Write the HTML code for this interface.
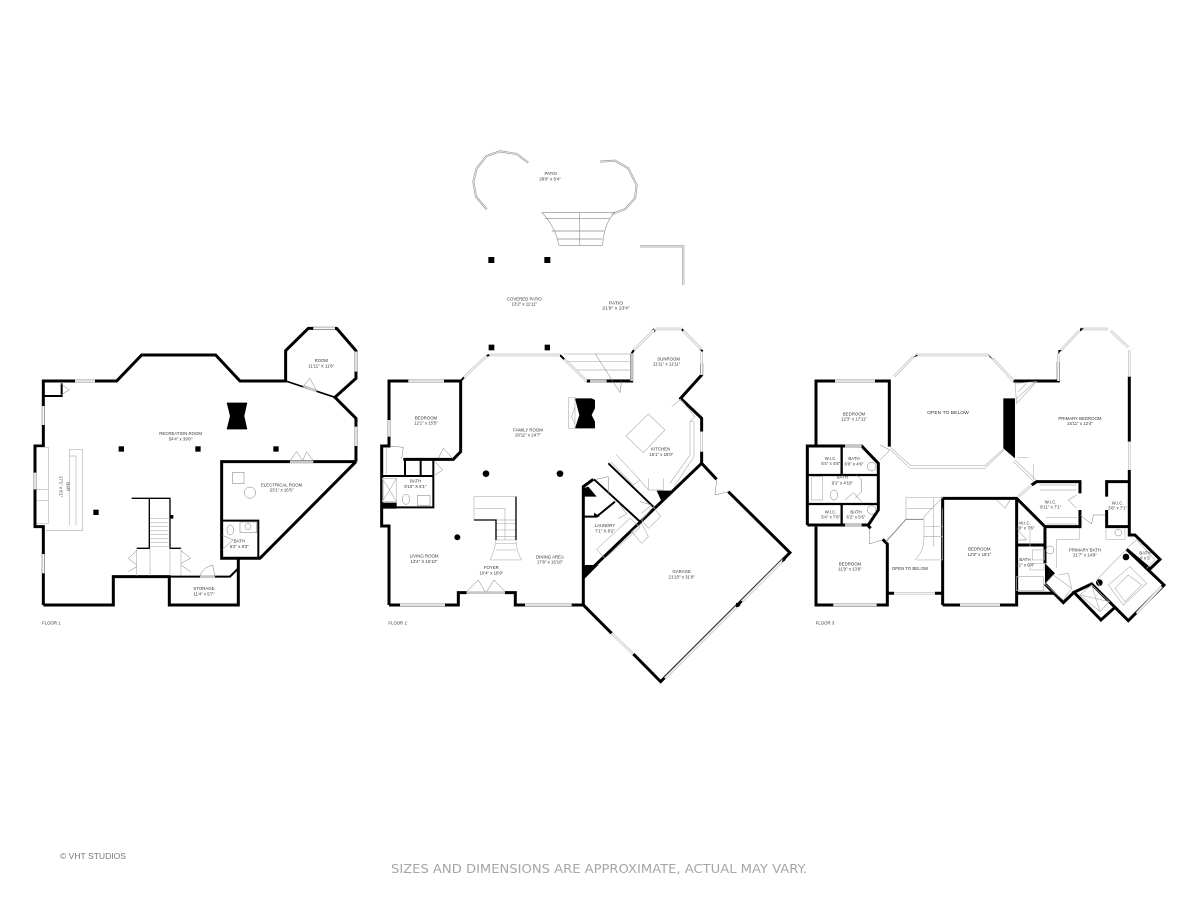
<!DOCTYPE html>
<html><head><meta charset="utf-8"><style>
html,body{margin:0;padding:0;background:#fff}
svg{display:block;filter:blur(.3px)}
.w{fill:none;stroke:#000;stroke-width:9;stroke-linejoin:miter}
.t{fill:none;stroke:#000;stroke-width:4}
.g{fill:none;stroke:#b5b5b5;stroke-width:2}
.d{fill:none;stroke:#777;stroke-width:1.5}
.o{fill:none;stroke:#c6c6c6;stroke-width:8}
.i{fill:none;stroke:#fff;stroke-width:3}
text{font-family:"Liberation Sans",sans-serif;font-size:13px;fill:#333;text-anchor:middle}
</style></head><body>
<svg width="1200" height="900" viewBox="0 0 1200 900" xmlns="http://www.w3.org/2000/svg">
<rect width="1200" height="900" fill="#fff"/>

<!-- TOP PATIO -->
<g transform="translate(460,140) scale(.3333)">
<path d="M205 68L170 42L120 34L80 48L50 85L40 125L48 170L80 208" fill="none" stroke="#999" stroke-width="6"/><path d="M205 68L170 42L120 34L80 48L50 85L40 125L48 170L80 208" class="i" style="stroke-width:2"/>
<path d="M420 65L465 62L505 85L530 135L525 175L495 208L455 222" fill="none" stroke="#999" stroke-width="6"/><path d="M420 65L465 62L505 85L530 135L525 175L495 208L455 222" class="i" style="stroke-width:2"/>
<path d="M245 218H465M255 235H448M275 273H432M290 297H428M297 316H428" fill="none" stroke="#888" stroke-width="2"/>
<path d="M245 218C270 240 290 280 297 316M465 218C440 240 430 280 428 316M358 218V316" fill="none" stroke="#999" stroke-width="2"/>
<path d="M540 319H670V435" fill="none" stroke="#999" stroke-width="6"/><path d="M540 319H670V435" class="i" style="stroke-width:2"/>
<rect x="85" y="351" width="18" height="18" fill="#000"/><rect x="253" y="351" width="18" height="18" fill="#000"/>
<text x="272" y="105">PATIO</text><text x="270" y="121">28'9" x 9'4"</text>
<text x="193" y="482">COVERED PATIO</text><text x="193" y="497">13'2" x 11'11"</text>
<text x="468" y="493" style="font-size:15px">PATIO</text><text x="468" y="509" style="font-size:15px">21'9" x 13'4"</text>
</g>

<!-- FLOOR 1 -->
<g transform="translate(20,310) scale(.3333)">
<path class="w" d="M70 885V650H45V408H70V213H290L365 135H587L660 213H797V122L865 55H950L1008 122V205L945 262L1008 325V455"/>
<path class="t" style="stroke-width:5" d="M797 213L945 262"/>
<path class="w" d="M1008 455H605V745H720L1008 455"/>
<path class="w" d="M655 745V885H448V800H280V885H70"/>
<path class="t" style="stroke-width:6" d="M448 800H630L655 775M70 258H125V220M605 632H715V745"/>
<path class="o" d="M165 213H225M880 55H945M1008 125V185M1008 350V408M70 288V345M45 488V538M70 732V790M810 455H880M540 800H585M850 228L890 243"/>
<path class="i" d="M165 213H225M880 55H945M1008 125V185M1008 350V408M70 288V345M45 488V538M70 732V790"/>
<path d="M620 278H682L673 318L682 358H620L630 318Z" fill="#000"/>
<rect x="296" y="409" width="16" height="16" fill="#000"/><rect x="526" y="409" width="16" height="16" fill="#000"/><rect x="760" y="409" width="16" height="16" fill="#000"/><rect x="220" y="599" width="16" height="16" fill="#000"/><rect x="450" y="615" width="10" height="11" fill="#000"/>
<path class="g" d="M50 412H85V640H50M50 538H85M50 572H85M148 438V645M148 418H188V662H78M148 418V438H168V645"/>
<path class="t" d="M335 565H450V715H483M388 565V715H350"/>
<path class="g" d="M390 625H450M390 637H450M390 649H450M390 661H450M390 673H450M390 685H450M390 697H450M390 709H450M350 715V797M483 715V797M390 715V797M450 715V797"/>
<path class="d" d="M350 722L325 745L350 765M350 770L325 785M483 722L512 745L483 760M483 765L512 785M540 800C545 780 560 770 578 765L585 800M810 452L830 425L848 452M848 452L860 425L880 452M850 228L870 205L890 243M122 222L148 240L122 255M605 675L640 690L605 720"/>
<rect x="638" y="487" width="34" height="34" class="d"/><circle cx="690" cy="548" r="17" class="d"/>
<path class="d" d="M660 636H710V668H660Z"/><circle cx="684" cy="650" r="9" class="d"/><ellipse cx="631" cy="660" rx="10" ry="15" class="d"/>
<text x="482" y="375">RECREATION ROOM</text><text x="482" y="391">54'4" x 39'0"</text>
<text x="904" y="156">ROOM</text><text x="904" y="173">11'11" X 11'8"</text>
<text x="785" y="529">ELECTRICAL ROOM</text><text x="785" y="545">23'1" x 16'5"</text>
<text x="658" y="698">BATH</text><text x="658" y="714">6'2" x 8'3"</text>
<text x="552" y="840">STORAGE</text><text x="552" y="856">11'4" x 5'7"</text>
<text x="94" y="944">FLOOR 1</text>
<text transform="translate(139,530) rotate(90)">BAR</text><text transform="translate(119,530) rotate(90)">17'1" x 6'1"</text>
</g>

<!-- FLOOR 2 -->
<g transform="translate(370,320) scale(.3333)">
<path class="w" d="M57 855V618H35V378H57V183H272V395L250 418H100"/>
<path class="w" d="M57 855H265V818H290M405 818H436V855H640V500L670 478"/>
<path class="w" d="M640 855L725 940M790 1002L872 1085L1260 698L1075 515M1040 478L995 430V395M995 335V295L932 235L995 165V130"/>
<path class="w" d="M640 770L995 430"/>
<path class="w" d="M650 183H785V100"/>
<path class="t" style="stroke-width:6" d="M35 468H190V562H35M100 418H190V468M105 418V465M152 418V465M715 430L855 565M672 478L810 605M640 590H680L735 545M350 108L358 105M570 105L583 118M848 27L855 35M935 27L942 35M785 100L792 90M990 85L998 95M272 183L282 172"/>
<path class="o" d="M115 183H222M57 300V350M282 172L350 108M360 105H570M583 118L650 183M660 183H710M785 100V183M792 90L852 30M855 27H935M940 32L995 88M995 95V165M995 335V395M465 855H605M90 855H225M290 818H405M725 940L790 1002M1240 720L1115 845M1100 860L885 1075"/>
<path class="i" d="M115 183H222M57 300V350M282 172L350 108M360 105H570M583 118L650 183M792 90L852 30M855 27H935M940 32L995 88M995 95V165M995 335V395M465 855H605M90 855H225M725 940L790 1002M1240 720L1115 845M1100 860L885 1075"/>
<path d="M1240 715L1260 698L1245 722L1235 728ZM1098 850L1118 842L1108 860L1098 862Z" fill="#000"/>
<path d="M640 735H685L640 780ZM860 512H905L875 545ZM640 505L655 500L680 530H640ZM672 578L690 590H672ZM35 548H80V566H35Z" fill="#000"/>
<rect x="356" y="74" width="17" height="17" fill="#000"/><rect x="524" y="74" width="16" height="17" fill="#000"/>
<circle cx="348" cy="461" r="10" fill="#000"/><circle cx="570" cy="461" r="10" fill="#000"/><circle cx="262" cy="652" r="9" fill="#000"/>
<path d="M615 235H665L675 240V265L665 285L675 305V325H615L628 285Z" fill="#000"/>
<path class="g" d="M596 233H615V325H596ZM615 260L605 290L615 312"/>
<path class="g" d="M580 102H785M590 125H785M620 150H785M650 178H785"/>
<path class="d" d="M675 100L750 218L755 183M58 378L100 382L95 415M205 415L220 385L250 418M195 425L218 450L195 465M1040 480L1035 525L1075 515M680 478L715 470V520M745 548L770 582L745 595M810 545L845 555L815 580M290 815L325 780L345 815M350 815L372 780L405 815"/>
<path class="g" d="M768 348L835 282L885 330L820 398ZM40 385V462M50 385V462"/>
<path class="g" d="M905 260L932 238L975 290L960 305V405L900 490M960 305H972V410L912 500"/>
<path class="g" d="M738 403L810 480L790 495L722 425M810 480L835 510M880 475V510H835V475"/>
<path class="g" d="M680 688L780 595L810 622L705 715ZM785 635L815 610L835 650L815 670Z"/>
<path class="g" d="M850 560L872 590L835 625L815 600Z"/>
<path class="g" d="M312 530H438V600H378V660H438M312 530V600H378M312 565H405V660M378 610H438M378 630H438M378 650H438M378 670H438M378 690H438M360 720C375 690 378 670 378 650M455 720C438 690 438 670 438 650M360 720H455"/>
<path class="t" style="stroke-width:4" d="M312 600H378V660M438 530V660"/>
<path class="g" d="M37 475H80V545H37ZM37 475L80 545M80 475L37 545"/><ellipse cx="108" cy="538" rx="11" ry="15" class="d"/><rect x="142" y="527" width="38" height="30" class="d"/>
<text x="168" y="298">BEDROOM</text><text x="168" y="313">12'1" x 15'5"</text>
<text x="474" y="334">FAMILY ROOM</text><text x="474" y="350">20'11" x 24'7"</text>
<text x="896" y="121">SUNROOM</text><text x="890" y="136">11'11" x 11'11"</text>
<text x="872" y="392">KITCHEN</text><text x="874" y="408">16'1" x 18'0"</text>
<text x="137" y="488">BATH</text><text x="136" y="504">8'10" X 5'1"</text>
<text x="705" y="621">LAUNDRY</text><text x="705" y="637">7'1" X 8'2"</text>
<text x="162" y="713">LIVING ROOM</text><text x="162" y="729">12'4" X 16'10"</text>
<text x="540" y="715">DINING AREA</text><text x="540" y="731">17'8" x 16'10"</text>
<text x="364" y="747">FOYER</text><text x="364" y="763">10'4" x 16'9"</text>
<text x="935" y="759">GARAGE</text><text x="935" y="775">21'10" x 31'9"</text>
<text x="83" y="914">FLOOR 2</text>
</g>

<!-- FLOOR 3 -->
<g transform="translate(800,320) scale(.3333)">
<path class="w" d="M48 378V183H268V380"/>
<path class="w" d="M48 620V855H262V672L248 658M205 618L212 625"/>
<path class="w" d="M22 615V378H185L235 430V570L205 615H22"/>
<path class="w" d="M262 820H282M405 820H428"/>
<path class="w" d="M428 855V535H650L735 620V730M650 535V855H428"/>
<path class="w" d="M640 183H775V125M988 170V365M988 450V645H1005L1080 718L1050 747L980 688L1092 795L985 902L945 862L875 792L822 817L903 900L945 862M822 817L790 848L735 792"/>
<path class="w" d="M695 495L710 485H840V520M840 570V620H735"/>
<path class="w" d="M920 530V485H988M920 570V620H988"/>
<path class="w" d="M650 675H735M650 820H765"/>
<path class="t" style="stroke-width:7" d="M22 465H235M22 552H235M125 378V465M125 552V615"/>
<path class="o" d="M105 183H225M282 170L340 110M345 105H568M578 115L640 183M775 100V183M782 92L838 32M840 27H925M932 32L985 82M988 90V170M988 365V450M100 855H230M282 820H405M480 855H600M1010 880L1085 800M135 378H185M135 615H185M655 530L695 495"/>
<path class="i" d="M105 183H225M282 170L340 110M345 105H568M578 115L640 183M775 100V183M782 92L838 32M840 27H925M932 32L985 82M988 90V170M988 365V450M100 855H230M282 820H405M480 855H600M1010 880L1085 800M655 530L695 495"/>
<path d="M610 235H645V415L610 385ZM735 730L765 760L735 792Z" fill="#000"/>
<path d="M338 112L352 103V108ZM565 103L580 118L570 112ZM775 90L785 90L775 102ZM840 25L852 25L840 35Z" fill="#000"/>
<circle cx="978" cy="711" r="10" fill="#000"/><circle cx="898" cy="788" r="10" fill="#000"/>
<path class="g" d="M272 390L330 445H555L612 390M272 382L332 437H555L612 385"/>
<path class="g" d="M645 190L710 185L650 250ZM655 215L680 190M650 235L700 190"/>
<path class="g" d="M645 420L708 480M640 425L702 485M652 412H685M700 432V478"/>
<path class="g" d="M318 532H428L372 590V650M318 532V598H370M318 565H400M372 620H428M372 650H428M400 535V680M428 565V720M345 720C365 700 372 680 372 650M350 720H428"/>
<path class="t" style="stroke-width:3;stroke:#888" d="M258 665L318 598H370"/>
<path class="d" d="M240 375L270 390L240 420M590 540L615 565L630 540M208 625V672L245 660M840 585L875 612L880 585L915 585M830 525L805 540L830 565M165 460L185 480V515L165 535M135 540L160 518L185 545M650 625L680 660L650 660"/>
<path class="g" d="M720 495H830M720 510H830M738 592H832M738 612H832M35 470H68V540H35ZM650 770H730V812H650ZM770 658H838V625M770 658V745M918 625V658H975V625M690 620V680M697 690H733V720H697ZM690 730H732V750H690Z"/>
<ellipse cx="102" cy="525" rx="11" ry="15" class="d"/><circle cx="215" cy="440" r="13" class="d"/><circle cx="215" cy="570" r="13" class="d"/><circle cx="955" cy="638" r="10" class="d"/><circle cx="750" cy="690" r="12" class="d"/>
<path class="g" d="M985 682L890 780L900 800M925 795L990 740L1040 790L970 855ZM945 805L985 765L1025 795L975 845Z"/>
<path class="g" d="M840 825L875 795L928 845L900 875ZM840 825L928 845M875 795L900 875"/>
<path class="g" d="M735 792L760 765L815 805L790 840ZM775 765L805 760L815 805M985 680L1010 660L1065 720L1040 745"/>
<text x="162" y="287">BEDROOM</text><text x="162" y="302">12'3" x 17'11"</text>
<text x="444" y="282" style="font-size:15px">OPEN TO BELOW</text>
<text x="840" y="300">PRIMARY BEDROOM</text><text x="840" y="315">15'11" x 12'4"</text>
<text x="92" y="420">W.I.C.</text><text x="92" y="435">5'4" x 4'8"</text>
<text x="162" y="420">BATH</text><text x="162" y="436">6'0" x 4'6"</text>
<text x="127" y="476">BATH</text><text x="127" y="493">9'1" x 4'10"</text>
<text x="92" y="580">W.I.C.</text><text x="92" y="596">5'4" x 7'6"</text>
<text x="168" y="580">BATH</text><text x="168" y="595">6'2" x 5'6"</text>
<text x="150" y="736">BEDROOM</text><text x="150" y="752">11'9" x 13'9"</text>
<text x="330" y="750">OPEN TO BELOW</text>
<text x="538" y="692">BEDROOM</text><text x="538" y="708">12'8" x 18'1"</text>
<text x="675" y="614">W.I.C.</text><text x="675" y="628">7'0" x 7'6"</text>
<text x="675" y="723">BATH</text><text x="675" y="739">9'1" x 6'4"</text>
<text x="752" y="550">W.I.C.</text><text x="752" y="566">9'11" x 7'1"</text>
<text x="953" y="553">W.I.C.</text><text x="953" y="568">3'6" x 7'1"</text>
<text x="855" y="695">PRIMARY BATH</text><text x="855" y="710">21'7" x 14'9"</text>
<text x="1035" y="703">BATH</text><text x="1035" y="718">4' x 5'</text>
<text x="75" y="914">FLOOR 3</text>
</g>

<text x="93" y="859" style="font-size:8.5px;fill:#777" textLength="66" lengthAdjust="spacingAndGlyphs">© VHT STUDIOS</text>
<text x="599" y="873" style="font-family:'DejaVu Sans',sans-serif;font-size:12.5px;fill:#a6a6a6" textLength="416" lengthAdjust="spacingAndGlyphs">SIZES AND DIMENSIONS ARE APPROXIMATE, ACTUAL MAY VARY.</text>
</svg>
</body></html>
